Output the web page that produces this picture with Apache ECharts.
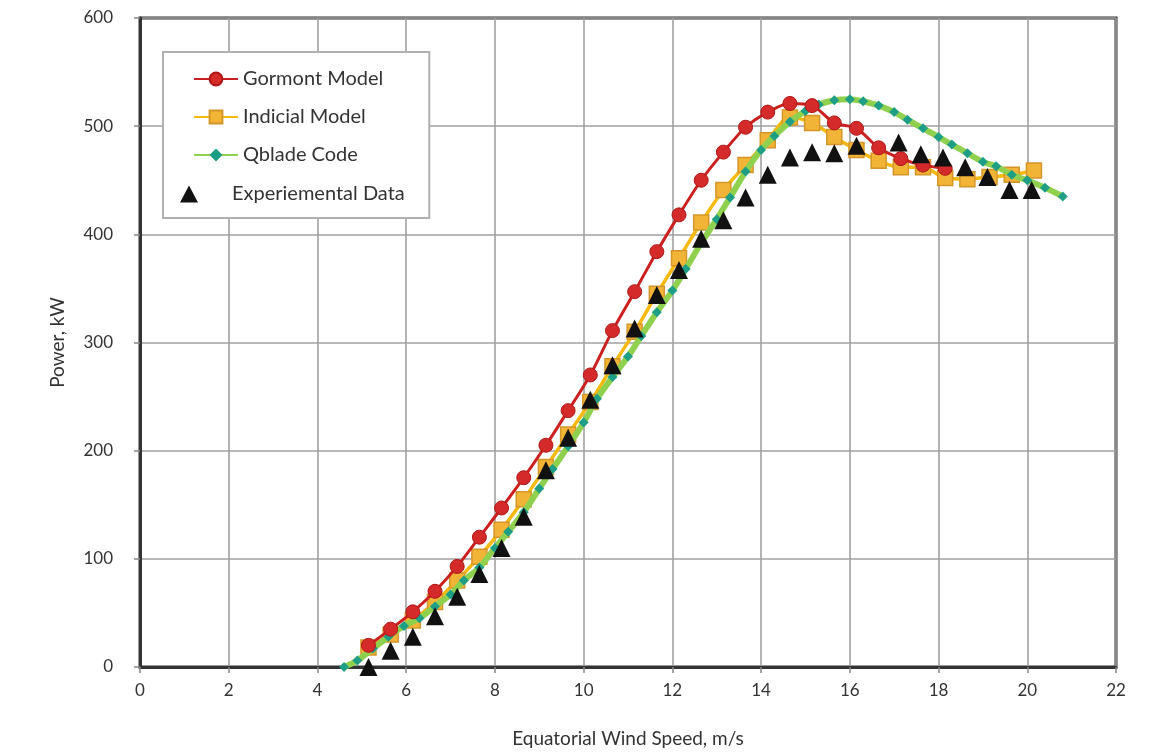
<!DOCTYPE html>
<html>
<head>
<meta charset="utf-8">
<script src="https://cdn.jsdelivr.net/npm/echarts@6/dist/echarts.min.js"></script>
<style>html,body{margin:0;padding:0;background:#fff}#c{width:1161px;height:753px}</style>
</head>
<body>
<div id="c"></div>
<script>
// Gormont Model
const gormontX = [5.15,5.65,6.15,6.65,7.15,7.65,8.15,8.65,9.15,9.65,10.15,10.65,11.15,11.65,12.15,12.65,13.15,13.65,14.15,14.65,15.15,15.65,16.15,16.65,17.15,17.65,18.15];
const gormontY = [20,35,51,70,93,120,147,175,205,237,270,311,347,384,418,450,476,499,513,521,519,503,498,480,470,464,461];
// Indicial Model
const indicialX = [5.15,5.65,6.15,6.65,7.15,7.65,8.15,8.65,9.15,9.65,10.15,10.65,11.15,11.65,12.15,12.65,13.15,13.65,14.15,14.65,15.15,15.65,16.15,16.65,17.15,17.65,18.15,18.65,19.15,19.65,20.15];
const indicialY = [18,30,43,60,80,102,127,155,185,215,245,278,310,345,378,411,441,464,487,508,503,490,478,468,462,462,452,451,453,455,459];
// Qblade Code
const qbladeX = [4.6,4.9,5.25,5.6,5.95,6.3,6.65,7.0,7.3,7.65,8.0,8.3,8.65,9.0,9.3,9.65,10.0,10.3,10.65,11.0,11.3,11.65,12.0,12.3,12.65,13.0,13.3,13.65,14.0,14.3,14.65,15.0,15.3,15.65,16.0,16.3,16.65,17.0,17.3,17.65,18.0,18.3,18.65,19.0,19.3,19.65,20.0,20.4,20.8];
const qbladeY = [0,6,17,28,38,45,56,67,80,92,110,125,143,165,183,204,226,248,268,287,306,328,348,368,392,414,434,458,478,491,504,514,520,524,525,523,519,513,506,498,490,483,475,467,463,455,450,443,435];
// Experiemental Data
const expX = [5.15,5.65,6.15,6.65,7.15,7.65,8.15,8.65,9.15,9.65,10.15,10.65,11.15,11.65,12.15,12.65,13.15,13.65,14.15,14.65,15.15,15.65,16.15,17.1,17.6,18.1,18.6,19.1,19.6,20.1];
const expY = [0,15,28,47,65,86,110,139,182,212,247,279,313,344,367,396,413,434,455,471,476,475,482,485,474,471,462,453,441,441];
// Axes
const xTicks = {min:0, max:22, interval:2};
const yTicks = {min:0, max:600, interval:100};
const lineNames = ['Gormont Model','Indicial Model','Qblade Code'];
const pointNames = ['Experiemental Data'];

const zip = (xs, ys) => xs.map((x, i) => [x, ys[i]]);
const FONT = 'Lato, "Open Sans", sans-serif';

const chart = echarts.init(document.getElementById('c'), null, {renderer:'canvas'});
chart.setOption({
  animation: false,
  backgroundColor: '#fff',
  grid: {left:140, right:45, top:18, bottom:86, show:true, borderColor:'#333', borderWidth:3, backgroundColor:'#fff'},
  legend: [
    {
      orient:'vertical', left:163, top:52,
      data: lineNames,
      padding:[17,46,53,30], itemGap:18, itemWidth:44, itemHeight:16,
      borderColor:'#b0b0b0', borderWidth:2, backgroundColor:'#fff',
      textStyle:{fontFamily:FONT, fontSize:20, color:'#333'}
    },
    {
      orient:'vertical', left:180, top:184,
      data: pointNames,
      padding:0, itemWidth:18, itemHeight:17,
      borderWidth:0, backgroundColor:'transparent',
      textStyle:{fontFamily:FONT, fontSize:20, color:'#333', padding:[0,0,0,29]}
    }
  ],
  xAxis: {
    type:'value', min:xTicks.min, max:xTicks.max, interval:xTicks.interval,
    name:'Equatorial Wind Speed, m/s', nameLocation:'middle', nameGap:62,
    nameTextStyle:{fontFamily:FONT, fontSize:19, color:'#333'},
    axisLine:{show:true, onZero:false, lineStyle:{color:'#333', width:3}},
    axisTick:{show:true, length:6, lineStyle:{color:'#888', width:1.5}},
    axisLabel:{fontFamily:FONT, fontSize:17, color:'#333', margin:15},
    splitLine:{show:true, lineStyle:{color:'#a0a0a0', width:1.6}}
  },
  yAxis: {
    type:'value', min:yTicks.min, max:yTicks.max, interval:yTicks.interval,
    name:'Power, kW', nameLocation:'middle', nameGap:73, nameRotate:90,
    nameTextStyle:{fontFamily:FONT, fontSize:19, color:'#333'},
    axisLine:{show:true, lineStyle:{color:'#333', width:3}},
    axisTick:{show:true, length:6, lineStyle:{color:'#888', width:1.5}},
    axisLabel:{fontFamily:FONT, fontSize:17, color:'#333', margin:27},
    splitLine:{show:true, lineStyle:{color:'#a0a0a0', width:1.6}}
  },
  series: [
    {
      name:'Indicial Model', type:'line', z:3, smooth:0.3,
      data: zip(indicialX, indicialY),
      symbol:'rect', symbolSize:15,
      lineStyle:{color:'#f5b90f', width:3.5},
      itemStyle:{color:'#f2b436', borderColor:'#d4962a', borderWidth:1.5}
    },
    {
      name:'Qblade Code', type:'line', z:4, smooth:0.3,
      data: zip(qbladeX, qbladeY),
      symbol:'diamond', symbolSize:10,
      lineStyle:{color:'#8fd14f', width:6},
      itemStyle:{color:'#1f9e86', borderWidth:0}
    },
    {
      name:'Gormont Model', type:'line', z:5, smooth:0.3,
      data: zip(gormontX, gormontY),
      symbol:'circle', symbolSize:14,
      lineStyle:{color:'#cc1f1f', width:3},
      itemStyle:{color:'#d42a2a', borderColor:'#b01818', borderWidth:1}
    },
    {
      name:'Experiemental Data', type:'scatter', z:6,
      data: zip(expX, expY),
      symbol:'triangle', symbolSize:18,
      itemStyle:{color:'#111', opacity:1}
    }
  ]
});
</script>
</body>
</html>
